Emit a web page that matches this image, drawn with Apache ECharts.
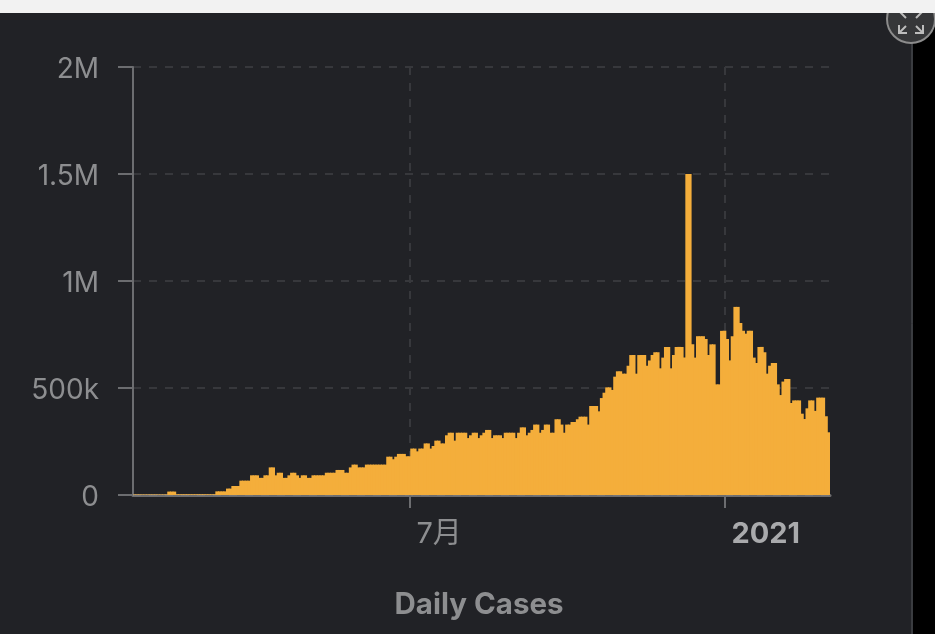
<!DOCTYPE html>
<html>
<head>
<meta charset="utf-8">
<style>
  html, body { margin: 0; padding: 0; background: #212226; }
  #chart { width: 935px; height: 634px; }
</style>
<script src="https://cdn.jsdelivr.net/npm/echarts@6/dist/echarts.min.js"></script>
</head>
<body>
<div id="chart"></div>
<script>
// daily cases, in thousands
var dailyCases = [
  2,2,2,2,2,2,2,2,2,2,2,2,2,16,16,16,3,3,3,3,3,3,3,3,3,3,3,3,3,3,3,
  17,17,17,17,30,30,42,42,42,67,67,67,67,92,92,92,80,80,92,92,129,129,92,
  104,104,80,80,92,104,104,92,80,92,92,80,80,92,92,92,92,92,
  104,104,104,104,117,117,117,104,104,129,142,142,129,129,129,
  142,142,142,142,142,142,142,142,179,179,167,179,192,192,192,181,181,
  217,217,204,217,217,241,241,217,229,254,254,241,241,279,291,291,254,
  291,291,291,291,266,279,291,291,266,279,291,304,304,266,279,279,279,266,
  291,291,291,291,266,291,316,316,279,291,304,329,329,291,304,329,329,291,291,
  354,354,329,291,329,329,341,341,354,366,366,366,329,416,416,416,391,453,478,
  503,503,491,553,578,578,567,567,604,654,654,567,654,654,654,604,629,654,
  667,667,592,642,692,692,592,654,692,692,692,642,1500,1500,704,642,
  742,742,742,729,654,704,704,517,517,767,767,729,629,742,879,879,804,767,754,
  767,767,642,617,692,692,667,567,604,617,617,517,467,530,542,542,430,
  442,442,442,380,355,405,442,442,393,455,455,455,368,293
];
// which bar each x label sits on
var xLabels = { 103: '7月', 221: '2021' };
var yTicks = [0, 500, 1000, 1500, 2000];
var yTickLabels = ['0', '500k', '1M', '1.5M', '2M'];
var xTitle = 'Daily Cases';

var categories = dailyCases.map(function (v, i) { return xLabels[i] || ''; });

function isMarked(i) { return xLabels[i] !== undefined; }

var font = 'Inter, "Noto Sans CJK SC", sans-serif';
var gray = '#8d8e90';

var myChart = echarts.init(document.getElementById('chart'), null, { renderer: 'canvas' });

var option = {
  animation: false,
  backgroundColor: '#212226',
  grid: { left: 133, right: 105, top: 67, bottom: 139 },
  xAxis: {
    type: 'category',
    data: categories,
    boundaryGap: true,
    axisLine: { show: true, lineStyle: { color: 'rgba(150,150,150,0.65)', width: 3 } },
    axisTick: { show: true, length: 13, alignWithLabel: true, interval: function (i) { return isMarked(i); }, lineStyle: { color: '#6c6d70', width: 2 } },
    splitLine: { show: true, alignWithLabel: true, interval: function (i) { return isMarked(i); }, lineStyle: { color: '#37383c', width: 2, type: [8, 8] } },
    axisLabel: {
      show: true,
      interval: function (i) { return isMarked(i); },
      align: 'left',
      margin: 25,
      padding: [0, 0, 0, 7],
      formatter: function (v) { return v === '2021' ? '{bold|' + v + '}' : v; },
      color: gray,
      fontFamily: font,
      fontSize: 29,
      rich: { bold: { color: '#a9aaac', fontWeight: 'bold', fontFamily: font, fontSize: 29 } }
    },
    name: xTitle,
    nameLocation: 'middle',
    nameGap: 95,
    nameTextStyle: { color: gray, fontFamily: font, fontWeight: 'bold', fontSize: 29.5, padding: [0, 5, 0, 0] }
  },
  yAxis: {
    type: 'value',
    min: yTicks[0],
    max: yTicks[yTicks.length - 1],
    interval: 500,
    axisLine: { show: true, lineStyle: { color: '#6c6d70', width: 2 } },
    axisTick: { show: true, length: 15, lineStyle: { color: '#6c6d70', width: 2 } },
    splitLine: { show: true, lineStyle: { color: '#37383c', width: 2, type: [8, 8] } },
    axisLabel: {
      margin: 34,
      verticalAlign: 'top',
      lineHeight: 6,
      color: gray,
      fontFamily: font,
      fontSize: 28,
      formatter: function (v) { return yTickLabels[yTicks.indexOf(v)]; }
    }
  },
  series: [
    {
      name: xTitle,
      type: 'bar',
      data: dailyCases,
      barCategoryGap: 0,
      barWidth: '135%',
      itemStyle: { color: '#f4ae3b' }
    }
  ],
  // window chrome around the chart: top strip, black edge and the expand button
  graphic: [
    { type: 'rect', z: 50, shape: { x: 913, y: 0, width: 22, height: 634 }, style: { fill: '#000000' } },
    { type: 'line', z: 50, shape: { x1: 912, y1: 13, x2: 912, y2: 634 }, style: { stroke: '#55565a', lineWidth: 1 } },
    { type: 'circle', z: 51, shape: { cx: 911, cy: 19, r: 24 }, style: { fill: '#363739', stroke: '#8c8c8c', lineWidth: 2 } },
    { type: 'polyline', z: 52, shape: { points: [[899, 25], [899, 33], [907, 33]] }, style: { stroke: '#bdbdbd', lineWidth: 2, fill: null } },
    { type: 'line', z: 52, shape: { x1: 899, y1: 33, x2: 906, y2: 26 }, style: { stroke: '#bdbdbd', lineWidth: 2 } },
    { type: 'polyline', z: 52, shape: { points: [[915, 33], [923, 33], [923, 25]] }, style: { stroke: '#bdbdbd', lineWidth: 2, fill: null } },
    { type: 'line', z: 52, shape: { x1: 923, y1: 33, x2: 916, y2: 26 }, style: { stroke: '#bdbdbd', lineWidth: 2 } },
    { type: 'line', z: 52, shape: { x1: 899, y1: 11, x2: 906, y2: 18 }, style: { stroke: '#bdbdbd', lineWidth: 2 } },
    { type: 'line', z: 52, shape: { x1: 923, y1: 11, x2: 916, y2: 18 }, style: { stroke: '#bdbdbd', lineWidth: 2 } },
    { type: 'rect', z: 60, shape: { x: 0, y: 0, width: 935, height: 13 }, style: { fill: '#f2f2f2' } }
  ]
};

myChart.setOption(option);
</script>
</body>
</html>
